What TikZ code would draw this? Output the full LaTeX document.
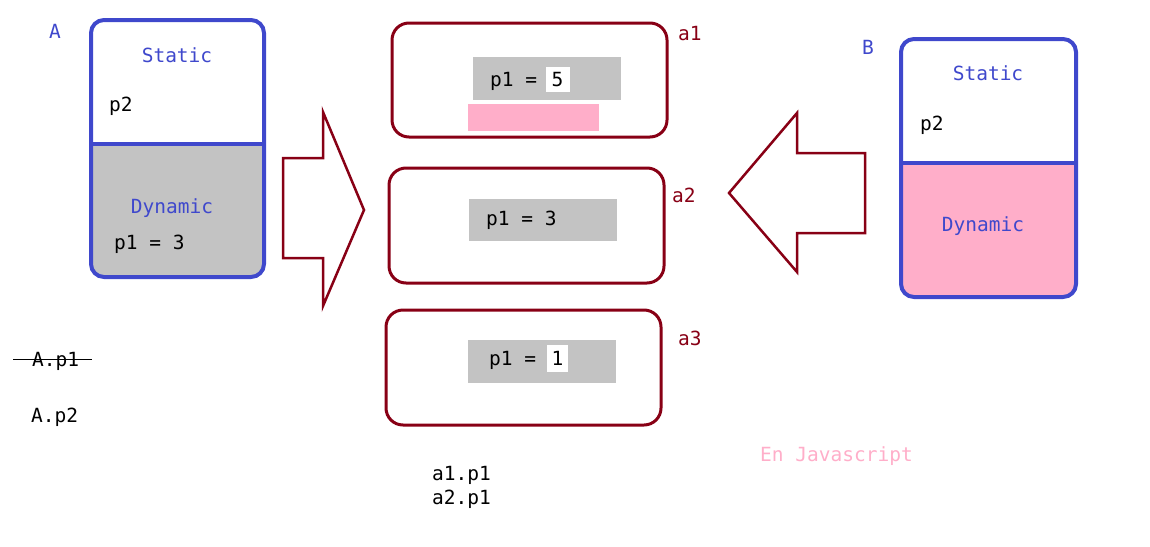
\documentclass[tikz,border=0pt]{standalone}
\usepackage{fontspec}
\setmonofont{DejaVu Sans Mono}
\usepackage{tikz}
\usetikzlibrary{positioning}
\definecolor{indigo}{RGB}{63,72,204}
\definecolor{darkred}{RGB}{136,0,21}
\definecolor{pinkfill}{RGB}{255,174,201}
\definecolor{grayfill}{RGB}{195,195,195}

\begin{document}
\begin{tikzpicture}[x=1pt,y=-1pt,
    txt/.style={anchor=base west, inner sep=0pt, font=\ttfamily\fontsize{19.5}{23}\selectfont},
    ctxt/.style={txt, anchor=base},
    classbox/.style={draw=indigo, line width=4pt, rounded corners=13pt},
    objbox/.style={draw=darkred, line width=3pt, rounded corners=17pt},
    bigarrow/.style={draw=darkred, line width=2.5pt, line join=miter},
    valbox/.style={fill=white, inner sep=0pt, minimum width=24pt, minimum height=25pt,
                   font=\ttfamily\fontsize{19.5}{23}\selectfont}]
                \useasboundingbox (0,0) rectangle (1150,546);
                % class A
                \begin{scope}
                    \clip[rounded corners=13pt] (91,20) rectangle (264,277);
                    \fill[grayfill] (91,144) rectangle (264,277);
                \end{scope}
                \draw[classbox] (91,20) rectangle (264,277);
                \draw[draw=indigo, line width=4pt] (91,144) -- (264,144);
                \node[txt, text=indigo] (labA) at (49,38) {A};
                \node[ctxt, text=indigo] (statA) at (177,62) {Static};
                \node[txt] (p2A) at (109,111) {p2};
                \node[ctxt, text=indigo] (dynA) at (172,213) {Dynamic};
                \node[txt] (p1A) at (114,249) {p1 = 3};
                % class B
                \begin{scope}
                    \clip[rounded corners=13pt] (901,39) rectangle (1076,297);
                    \fill[pinkfill] (901,163) rectangle (1076,297);
                \end{scope}
                \draw[classbox] (901,39) rectangle (1076,297);
                \draw[draw=indigo, line width=4pt] (901,163) -- (1076,163);
                \node[txt, text=indigo] (labB) at (862,54) {B};
                \node[ctxt, text=indigo] (statB) at (988,80) {Static};
                \node[txt] (p2B) at (920,130) {p2};
                \node[ctxt, text=indigo] (dynB) at (983,231) {Dynamic};
                % arrows
                \draw[bigarrow] (283,158) -- (323,158) -- (323,112) -- (364,210)
                    -- (323,306) -- (323,258) -- (283,258) -- cycle;
                \draw[bigarrow] (865,153) -- (797,153) -- (797,113) -- (729,193)
                    -- (797,272) -- (797,233) -- (865,233) -- cycle;
                % object a1
                \draw[objbox] (392,23) rectangle (667,137);
                \fill[grayfill] (473,57) rectangle (621,100);
                \fill[pinkfill] (468,104) rectangle (599,131);
                \node[txt] (p1a1) at (490,86) {p1 = };
                \node[valbox] (v1) at (557.5,79.5) {5};
                \node[txt, text=darkred] (laba1) at (678,40) {a1};
                % object a2
                \draw[objbox] (389,168) rectangle (664,283);
                \fill[grayfill] (469,199) rectangle (617,241);
                \node[txt] (p1a2) at (486,225) {p1 = 3};
                \node[txt, text=darkred] (laba2) at (672,202) {a2};
                % object a3
                \draw[objbox] (386,310) rectangle (661,425);
                \fill[grayfill] (468,340) rectangle (616,383);
                \node[txt] (p1a3) at (489,365) {p1 = };
                \node[valbox, minimum width=21pt, minimum height=27pt] (v3) at (557.5,358.5) {1};
                \node[txt, text=darkred] (laba3) at (678,345) {a3};
                % accesses
                \node[txt] (Ap1) at (32,366) {A.p1};
                \draw[line width=1pt] (13,359) -- (92,359);
                \node[txt] (Ap2) at (31,422) {A.p2};
                \node[txt] (a1p1) at (432,480) {a1.p1};
                \node[txt] (a2p1) at (432,504) {a2.p1};
                \node[txt, text=pinkfill] (js) at (760,461) {En Javascript};
            \end{tikzpicture}
\end{document}
